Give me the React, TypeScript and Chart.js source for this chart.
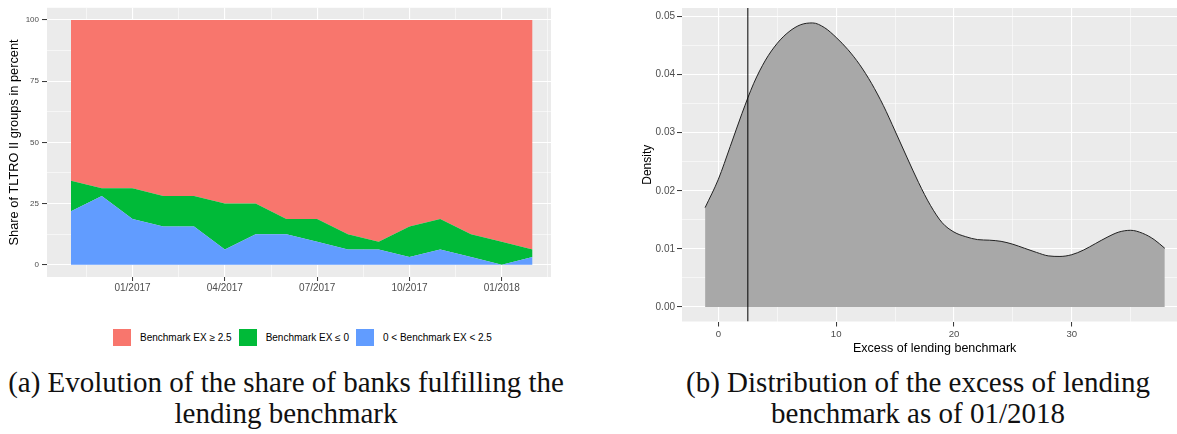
import React, { useEffect, useRef } from 'react';
import { Chart, registerables } from 'chart.js';

Chart.register(...registerables);

// ---------- Panel (a): share of banks per benchmark group ----------
const months = [
  '11/2016', '12/2016', '01/2017', '02/2017', '03/2017', '04/2017', '05/2017', '06/2017',
  '07/2017', '08/2017', '09/2017', '10/2017', '11/2017', '12/2017', '01/2018', '02/2018',
];
const quarterTickLabels = ['01/2017', '04/2017', '07/2017', '10/2017', '01/2018'];
const shareBetween0And2_5 = [21.875, 28.125, 18.75, 15.625, 15.625, 6.25, 12.5, 12.5, 9.375, 6.25, 6.25, 3.125, 6.25, 3.125, 0, 3.125];
const shareBelow0 = [12.5, 3.125, 12.5, 12.5, 12.5, 18.75, 12.5, 6.25, 9.375, 6.25, 3.125, 12.5, 12.5, 9.375, 9.375, 3.125];
const shareAbove2_5 = [65.625, 68.75, 68.75, 71.875, 71.875, 75, 75, 81.25, 81.25, 87.5, 90.625, 84.375, 81.25, 87.5, 90.625, 93.75];
const shareTicks = [0, 25, 50, 75, 100];
const legendLabels = ['Benchmark EX ≥ 2.5', 'Benchmark EX ≤ 0', '0 < Benchmark EX < 2.5'];

// ---------- Panel (b): density of the excess of lending benchmark ----------
const excessValues = [
  -1.13, 0, 1, 2, 3, 4, 5, 6, 7, 8, 9, 10, 11, 12, 13, 14, 15, 16, 17, 18, 19, 20,
  21, 22, 23, 24, 25, 26, 27, 28, 29, 30, 31, 32, 33, 34, 35, 36, 37, 37.9,
];
const densityValues = [
  0.0171, 0.0220, 0.0276, 0.0333, 0.0385, 0.0425, 0.0454, 0.0474, 0.0486, 0.0489, 0.0481, 0.0464,
  0.0443, 0.0417, 0.0385, 0.0347, 0.0303, 0.0258, 0.0214, 0.0175, 0.0145, 0.0129, 0.0121, 0.0116,
  0.0115, 0.0113, 0.0108, 0.0101, 0.0094, 0.0088, 0.0087, 0.0090, 0.0098, 0.0109, 0.0120, 0.0129,
  0.0132, 0.0127, 0.0116, 0.0101,
];
const excessTicks = [0, 10, 20, 30];
const densityTicks = [0, 0.01, 0.02, 0.03, 0.04, 0.05];
const benchmarkValue = 2.5;

// ---------- styles ----------
const COLORS = {
  red: '#F8766D',
  green: '#00BA38',
  blue: '#619CFF',
  panel: '#EBEBEB',
  grid: '#FFFFFF',
  tickText: '#4D4D4D',
  tickMark: '#333333',
  density: '#A8A8A8',
};
const legendColors = [COLORS.red, COLORS.green, COLORS.blue];
const SANS = "'Liberation Sans', Arial, sans-serif";

const near = (a: number, b: number) => Math.abs(a - b) < 1e-9;
const isIn = (list: number[], v: number) => list.some((m) => near(m, v));

const panelBackground = {
  id: 'panelBackground',
  beforeDraw(chart: any) {
    const { ctx, chartArea: a } = chart;
    ctx.save();
    ctx.fillStyle = COLORS.panel;
    ctx.fillRect(a.left, a.top, a.right - a.left, a.bottom - a.top);
    ctx.restore();
  },
};

function gridFor(majors: number[]) {
  return {
    color: COLORS.grid,
    lineWidth: (c: any) => (c.tick && isIn(majors, c.tick.value) ? 1.1 : 0.55),
    tickColor: (c: any) => (c.tick && isIn(majors, c.tick.value) ? COLORS.tickMark : 'rgba(0,0,0,0)'),
    tickWidth: 1,
    tickLength: 4,
    drawTicks: true,
  };
}

export default function App() {
  const leftRef = useRef<HTMLCanvasElement>(null);
  const rightRef = useRef<HTMLCanvasElement>(null);

  useEffect(() => {
    // ----- left chart -----
    const majorX = quarterTickLabels.map((l) => months.indexOf(l));
    const minorX = [...majorX.map((v) => v - 1.5), majorX[majorX.length - 1] + 1.5];
    const xTicksLeft = [...majorX, ...minorX].sort((a, b) => a - b);
    const minorY = shareTicks.slice(0, -1).map((v, i) => (v + shareTicks[i + 1]) / 2);
    const yTicksLeft = [...shareTicks, ...minorY].sort((a, b) => a - b);
    const pts = (arr: number[]) => arr.map((y, i) => ({ x: i, y }));

    const left = new Chart(leftRef.current as HTMLCanvasElement, {
      type: 'line',
      data: {
        datasets: [
          { label: legendLabels[2], data: pts(shareBetween0And2_5), backgroundColor: COLORS.blue, borderWidth: 0, pointRadius: 0, fill: 'origin', tension: 0 },
          { label: legendLabels[1], data: pts(shareBelow0), backgroundColor: COLORS.green, borderWidth: 0, pointRadius: 0, fill: '-1', tension: 0 },
          { label: legendLabels[0], data: pts(shareAbove2_5), backgroundColor: COLORS.red, borderWidth: 0, pointRadius: 0, fill: '-1', tension: 0 },
        ],
      },
      options: {
        animation: false,
        responsive: false,
        devicePixelRatio: 1,
        layout: { padding: { left: 0, top: 3, right: 29, bottom: 0 } },
        plugins: { legend: { display: false }, tooltip: { enabled: false } },
        scales: {
          x: {
            type: 'linear',
            min: -0.78,
            max: 15.6,
            afterBuildTicks: (s: any) => { s.ticks = xTicksLeft.map((value) => ({ value })); },
            afterFit: (s: any) => { s.height = 23; },
            ticks: {
              autoSkip: false,
              maxRotation: 0,
              padding: 1,
              color: COLORS.tickText,
              font: { family: SANS, size: 10 },
              callback: (v: any) => (isIn(majorX, Number(v)) ? months[Math.round(Number(v))] : ''),
            },
            grid: gridFor(majorX),
            border: { display: false },
          },
          y: {
            type: 'linear',
            stacked: true,
            min: -5,
            max: 105,
            afterBuildTicks: (s: any) => { s.ticks = yTicksLeft.map((value) => ({ value })); },
            afterFit: (s: any) => { s.width = 47; },
            ticks: {
              padding: 3,
              color: COLORS.tickText,
              font: { family: SANS, size: 8 },
              callback: (v: any) => (isIn(shareTicks, Number(v)) ? String(v) : ''),
            },
            grid: { ...gridFor(shareTicks), tickLength: 5 },
            border: { display: false },
            title: {
              display: true,
              text: 'Share of TLTRO II groups in percent',
              color: '#000',
              font: { family: SANS, size: 12.8 },
              padding: { top: 7, bottom: 0 },
            },
          },
        },
      },
      plugins: [panelBackground],
    } as any);

    // ----- right chart -----
    const minorXR = excessTicks.map((v) => v + 5);
    const xTicksRight = [...excessTicks, ...minorXR].sort((a, b) => a - b);
    const minorYR = densityTicks.slice(0, -1).map((v, i) => (v + densityTicks[i + 1]) / 2);
    const yTicksRight = [...densityTicks, ...minorYR].sort((a, b) => a - b);
    const yMin = -0.0025;
    const yMax = 0.05147;

    const right = new Chart(rightRef.current as HTMLCanvasElement, {
      type: 'line',
      data: {
        datasets: [
          {
            label: 'benchmark',
            data: [{ x: benchmarkValue, y: yMin }, { x: benchmarkValue, y: yMax }],
            borderColor: '#000000',
            borderWidth: 1,
            pointRadius: 0,
            fill: false,
          },
          {
            label: 'density',
            data: excessValues.map((x, i) => ({ x, y: densityValues[i] })),
            borderColor: '#222222',
            borderWidth: 1,
            backgroundColor: COLORS.density,
            pointRadius: 0,
            fill: 'origin',
            cubicInterpolationMode: 'monotone',
          },
        ],
      },
      options: {
        animation: false,
        responsive: false,
        devicePixelRatio: 1,
        layout: { padding: { left: 0, top: 2, right: 32.7, bottom: 0 } },
        plugins: { legend: { display: false }, tooltip: { enabled: false } },
        scales: {
          x: {
            type: 'linear',
            min: -3.09,
            max: 39.81,
            afterBuildTicks: (s: any) => { s.ticks = xTicksRight.map((value) => ({ value })); },
            afterFit: (s: any) => { s.height = 38.5; },
            ticks: {
              autoSkip: false,
              maxRotation: 0,
              padding: 2,
              color: COLORS.tickText,
              font: { family: SANS, size: 9.6 },
              callback: (v: any) => (isIn(excessTicks, Number(v)) ? String(v) : ''),
            },
            grid: { ...gridFor(excessTicks), tickLength: 5 },
            border: { display: false },
            title: {
              display: true,
              text: 'Excess of lending benchmark',
              color: '#000',
              font: { family: SANS, size: 12.5 },
              padding: { top: 0, bottom: 3.5 },
            },
          },
          y: {
            type: 'linear',
            min: yMin,
            max: yMax,
            afterBuildTicks: (s: any) => { s.ticks = yTicksRight.map((value) => ({ value })); },
            afterFit: (s: any) => { s.width = 82; },
            ticks: {
              padding: 2,
              color: COLORS.tickText,
              font: { family: SANS, size: 10 },
              callback: (v: any) => (isIn(densityTicks, Number(v)) ? Number(v).toFixed(2) : ''),
            },
            grid: { ...gridFor(densityTicks), tickLength: 5 },
            border: { display: false },
            title: {
              display: true,
              text: 'Density',
              color: '#000',
              font: { family: SANS, size: 12 },
              padding: { top: 40, bottom: 0 },
            },
          },
        },
      },
      plugins: [panelBackground],
    } as any);

    return () => {
      left.destroy();
      right.destroy();
    };
  }, []);

  const captionStyle: React.CSSProperties = {
    position: 'absolute',
    top: 367,
    fontFamily: "'Liberation Serif', 'Times New Roman', serif",
    fontSize: 29,
    lineHeight: '31px',
    color: '#111',
    textAlign: 'center',
    whiteSpace: 'nowrap',
  };

  return (
    <div style={{ position: 'fixed', left: 0, top: 0, width: 1177, height: 434, overflow: 'hidden', background: '#fff' }}>
      <canvas ref={leftRef} width={580} height={300} style={{ position: 'absolute', left: 0, top: 0 }} />
      <canvas ref={rightRef} width={620} height={360} style={{ position: 'absolute', left: 600, top: 0 }} />

      <div
        style={{
          position: 'absolute',
          left: 113,
          top: 329,
          height: 17,
          display: 'flex',
          alignItems: 'center',
          fontFamily: SANS,
          fontSize: 10,
          color: '#000',
          whiteSpace: 'nowrap',
        }}
      >
        {legendLabels.map((label, i) => (
          <div key={label} style={{ display: 'flex', alignItems: 'center', marginRight: 7 }}>
            <div style={{ width: 18, height: 17, background: legendColors[i], marginRight: 9 }} />
            <span>{label}</span>
          </div>
        ))}
      </div>

      <div style={{ ...captionStyle, left: 0, width: 572 }}>
        (a) Evolution of the share of banks fulfilling the
        <br />
        lending benchmark
      </div>
      <div style={{ ...captionStyle, left: 660, width: 516 }}>
        (b) Distribution of the excess of lending
        <br />
        benchmark as of 01/2018
      </div>
    </div>
  );
}
